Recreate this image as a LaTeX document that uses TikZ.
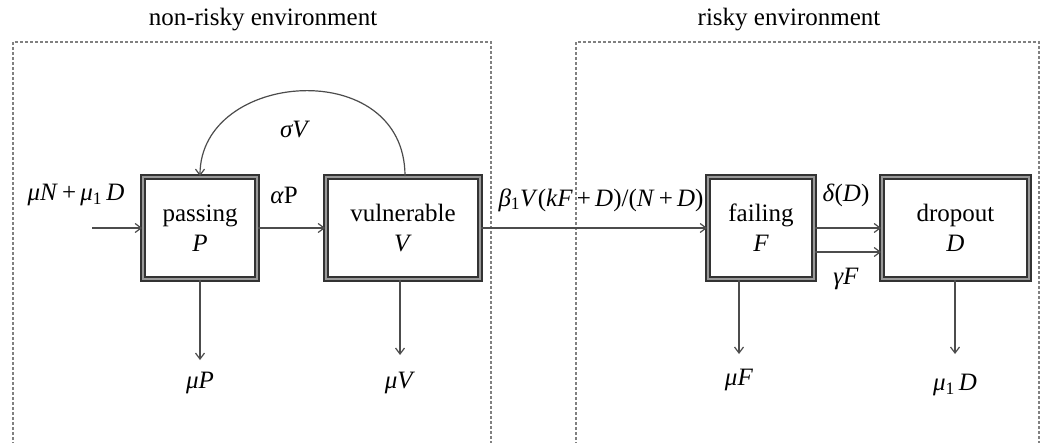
\documentclass[tikz,border=0pt]{standalone}
\usepackage{fontspec}
\setmainfont{Liberation Serif}
\usetikzlibrary{arrows.meta}
\tikzset{
  comp/.style={draw=black!80, line width=1.8pt, double=black!40, double distance=1.6pt, fill=white, minimum height=102pt, align=center, inner sep=0pt},
  env/.style={draw=black!50, line width=1.2pt, dash pattern=on 3pt off 2pt},
  flow/.style={draw=black!70, line width=1.2pt, -{Straight Barb[length=6pt,width=9pt]}},
  lbl/.style={inner sep=0pt, font=\fontsize{25}{30}\selectfont},
}
\begin{document}
\begin{tikzpicture}[x=1pt,y=-1pt, font=\fontsize{25}{30}\selectfont]
\useasboundingbox (0,0) rectangle (1046,442);
\fill[white] (0,0) rectangle (1046,442);
% environments
\draw[env] (13,460) -- (13,42) -- (491,42) -- (491,460);
\draw[env] (576,460) -- (576,42) -- (1039,42) -- (1039,460);
\node[lbl] (t1) at (263,20) {non-risky environment};
\node[lbl] (t2) at (789,20) {risky environment};
% compartments
\node[comp, minimum width=114pt] (P) at (200,228) {passing\\\textit{P}};
\node[comp, minimum width=154pt] (V) at (403,228) {vulnerable\\\textit{V}};
\node[comp, minimum width=106pt] (F) at (761,228) {failing\\\textit{F}};
\node[comp, minimum width=147pt] (D) at (955.5,228) {dropout\\\textit{D}};
% inflow
\coordinate (in) at (92,228);
\draw[flow] (in) -- (P.west);
\node[lbl] (lin) at (76,195) {\textit{μN}\,+\,\textit{μ}$_{\mathrm{1}}$\,\textit{D}};
% P -> V
\draw[flow] (P.east) -- (V.west);
\node[lbl] (la) at (284,195) {\textit{α}P};
% V -> P loop
\coordinate (vtop) at ([xshift=2pt]V.north);
\draw[flow] (vtop) .. controls (405,55) and (200,70) .. (P.north);
\node[lbl] (ls) at (295,130) {\textit{σV}};
% V -> F
\draw[flow] (V.east) -- (F.west);
\node[lbl] (lb) at (601,200) {\textit{β}$_{\mathrm{1}}$\textit{V}(\textit{kF}\,+\,\textit{D})/(\textit{N}\,+\,\textit{D})};
% F -> D
\draw[flow] (F.east) -- (D.west);
\coordinate (f2) at ([yshift=-24pt]F.east);
\draw[flow] (f2) -- (f2 -| D.west);
\node[lbl] (ld) at (846,195) {\textit{δ}(\textit{D})};
\node[lbl] (lg) at (846,279) {\textit{γF}};
% outflows
\coordinate (oP) at (200,360);
\coordinate (oV) at (400,355);
\coordinate (oF) at (739,354);
\coordinate (oD) at (955,354);
\draw[flow] (P.south) -- (oP);
\draw[flow] (V.south -| oV) -- (oV);
\draw[flow] (F.south -| oF) -- (oF);
\draw[flow] (D.south -| oD) -- (oD);
\node[lbl] (mP) at (200,383) {\textit{μP}};
\node[lbl] (mV) at (400,383) {\textit{μV}};
\node[lbl] (mF) at (739,380) {\textit{μF}};
\node[lbl] (mD) at (955,385) {\textit{μ}$_{\mathrm{1}}$\,\textit{D}};
\end{tikzpicture}
\end{document}
